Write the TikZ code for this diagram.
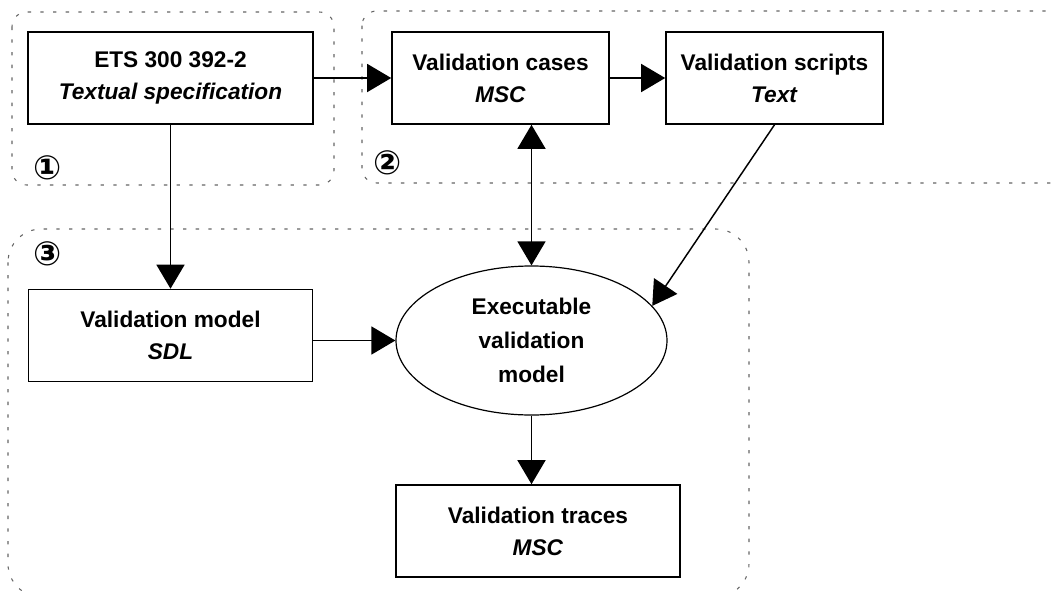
\documentclass[tikz,border=0pt]{standalone}
\usepackage{fontspec}
\setmainfont{Liberation Sans}
\newfontfamily\circfont{DejaVu Sans}
\usetikzlibrary{arrows.meta,shapes.geometric}

\begin{document}
\begin{tikzpicture}[x=0.75pt,y=-0.75pt,
  box/.style={draw,line width=1.2pt,minimum height=69pt,inner sep=0pt,align=center,
    font=\fontsize{17}{24}\selectfont\bfseries},
  region/.style={draw=gray!80!black,line width=0.8pt,dash pattern=on 2.5pt off 7pt},
  link/.style={line width=1.1pt,-{Triangle[length=18pt,width=21pt]}},
  tag/.style={inner sep=0pt,font=\circfont\bfseries\fontsize{25}{25}\selectfont}]
\useasboundingbox (0,0) rectangle (1054,593);
\clip (0,0) rectangle (1054,593);

% dotted groups
\draw[region,rounded corners=11pt] (12,12) rectangle (334,185);
\draw[region,rounded corners=11pt] (362,11) rectangle (1068,183);
\draw[region,rounded corners=25pt] (8,229) rectangle (749,597);

\node[tag] (one) at (48,168) {①};
\node[tag] (two) at (388,163) {②};
\node[tag] (three) at (48,254) {③};

% boxes
\node[box,minimum width=213.75pt] (ets) at (170.5,78) {ETS 300 392-2\\\textit{Textual specification}};
\node[box,minimum width=162.75pt] (cases) at (500.5,78) {Validation cases\\\textit{MSC}};
\node[box,minimum width=162.75pt] (scripts) at (774.5,78) {Validation scripts\\\textit{Text}};
\node[box,minimum width=213pt] (model) at (170.5,335.5) {Validation model\\\textit{SDL}};
\node[draw,ellipse,line width=0.9pt,minimum width=203.25pt,minimum height=111.75pt,inner sep=0pt,align=center,
  font=\fontsize{17}{25.5}\selectfont\bfseries] (exec) at (531.5,340.5) {Executable\\validation\\model};
\node[box,minimum width=213pt] (traces) at (538,531) {Validation traces\\\textit{MSC}};

% arrows
\draw[link] (ets) -- (cases);
\draw[link] (cases) -- (scripts);
\draw[link] (ets) -- (model);
\draw[link] (model.east |- exec) -- (exec);
\draw[link,{Triangle[length=18pt,width=21pt]}-{Triangle[length=18pt,width=21pt]}] (exec.north |- cases.south) -- (exec.north);
\draw[link] (scripts.south) -- (exec.16);
\draw[link] (exec.south) -- (exec.south |- traces.north);
\end{tikzpicture}
\end{document}
